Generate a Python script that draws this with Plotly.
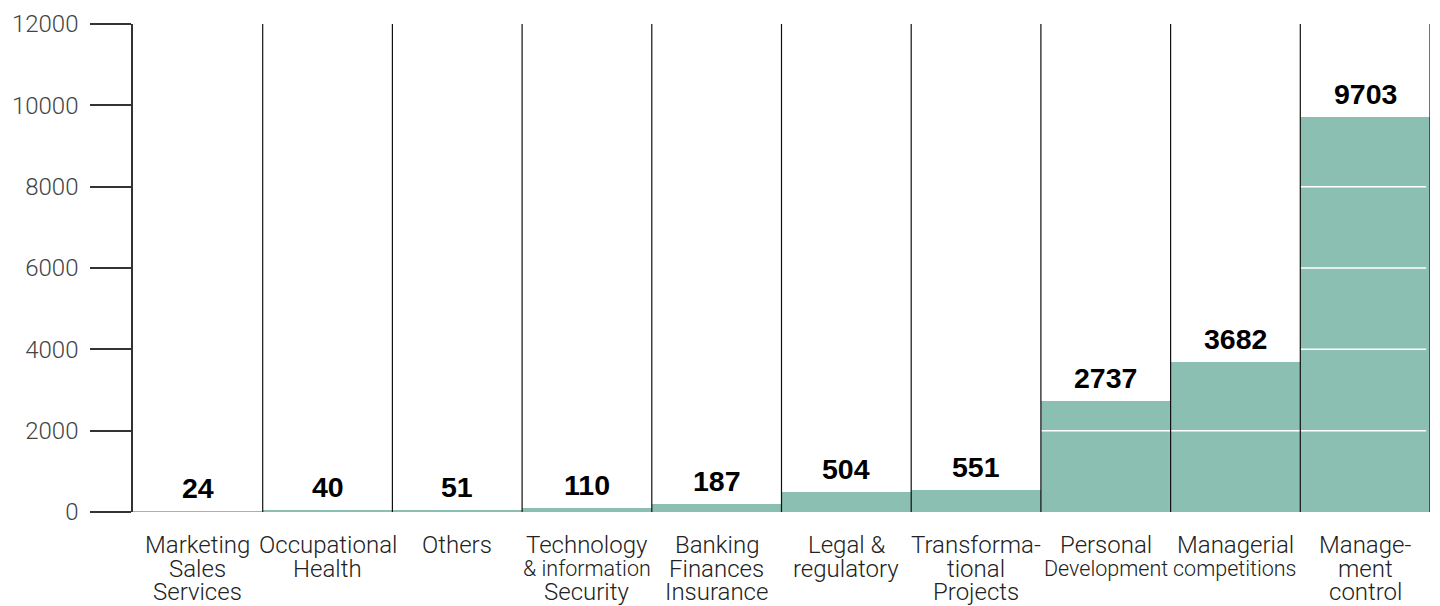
import plotly.graph_objects as go

# Category labels (line breaks as drawn under each column)
categories = [
    "Marketing<br>Sales<br>Services",
    "Occupational<br>Health",
    "Others",
    "Technology<br>& information<br>Security",
    "Banking<br>Finances<br>Insurance",
    "Legal &<br>regulatory",
    "Transforma-<br>tional<br>Projects",
    "Personal<br>Development",
    "Managerial<br>competitions",
    "Manage-<br>ment<br>control",
]
# Lines set in a smaller size so they fit their column
small_lines = ["& information", "Development", "competitions"]

values = [24, 40, 51, 110, 187, 504, 551, 2737, 3682, 9703]

y_ticks = [0, 2000, 4000, 6000, 8000, 10000, 12000]
y_range = [0, 12000]

BAR_COLOR = "#8bbfb2"
LIGHT_FONT = "Roboto"
BOLD_FONT = "Liberation Sans"

positions = list(range(len(categories)))

fig = go.Figure()
fig.add_trace(
    go.Bar(
        x=positions,
        y=values,
        width=1,
        marker=dict(color=BAR_COLOR, line=dict(width=0)),
        hoverinfo="skip",
    )
)

shapes = []
# White reference lines that show only across the filled bars
for t in y_ticks[1:-1]:
    shapes.append(dict(
        type="line", xref="x", yref="y",
        x0=positions[0] - 0.5, x1=positions[-1] + 0.47, y0=t, y1=t,
        line=dict(color="white", width=1.5), layer="above",
    ))
# Thin dark separators between the columns
for p in positions:
    shapes.append(dict(
        type="line", xref="x", yref="y",
        x0=p + 0.5, x1=p + 0.5, y0=y_range[0], y1=y_range[1],
        line=dict(color="#111111", width=1.2), layer="above",
    ))

annotations = []
# Value labels above each bar
for p, v in zip(positions, values):
    annotations.append(dict(
        x=p, y=v, xref="x", yref="y",
        text=f"<b>{v}</b>", showarrow=False,
        yanchor="middle", yshift=23,
        font=dict(family=BOLD_FONT, size=28.5, color="#000000"),
    ))
# Category labels, one annotation per line for tight leading
for p, label in zip(positions, categories):
    for k, line in enumerate(label.split("<br>")):
        size = 21.5 if line in small_lines else 24
        annotations.append(dict(
            x=p, y=0, xref="x", yref="paper",
            text=line, showarrow=False, borderpad=0,
            yanchor="middle", yshift=-33 - 23.5 * k,
            font=dict(family=LIGHT_FONT, size=size, color="#222222", weight=300),
        ))

fig.update_layout(
    width=1440, height=606,
    margin=dict(l=133, r=10, t=21, b=94, pad=0),
    paper_bgcolor="white", plot_bgcolor="white",
    showlegend=False,
    bargap=0,
    shapes=shapes,
    annotations=annotations,
    xaxis=dict(
        range=[positions[0] - 0.5, positions[-1] + 0.5],
        showticklabels=False, showgrid=False, zeroline=False,
        showline=False, ticks="",
    ),
    yaxis=dict(
        range=y_range, tickvals=y_ticks, tickformat="d",
        showgrid=False, zeroline=False,
        showline=True, linecolor="#333333", linewidth=1.5,
        ticks="outside", ticklen=41, tickwidth=1.5, tickcolor="#333333",
        ticklabelstandoff=7,
        tickfont=dict(family=LIGHT_FONT, size=24, color="#444444", weight=300),
    ),
)

fig.write_html("out.html")
